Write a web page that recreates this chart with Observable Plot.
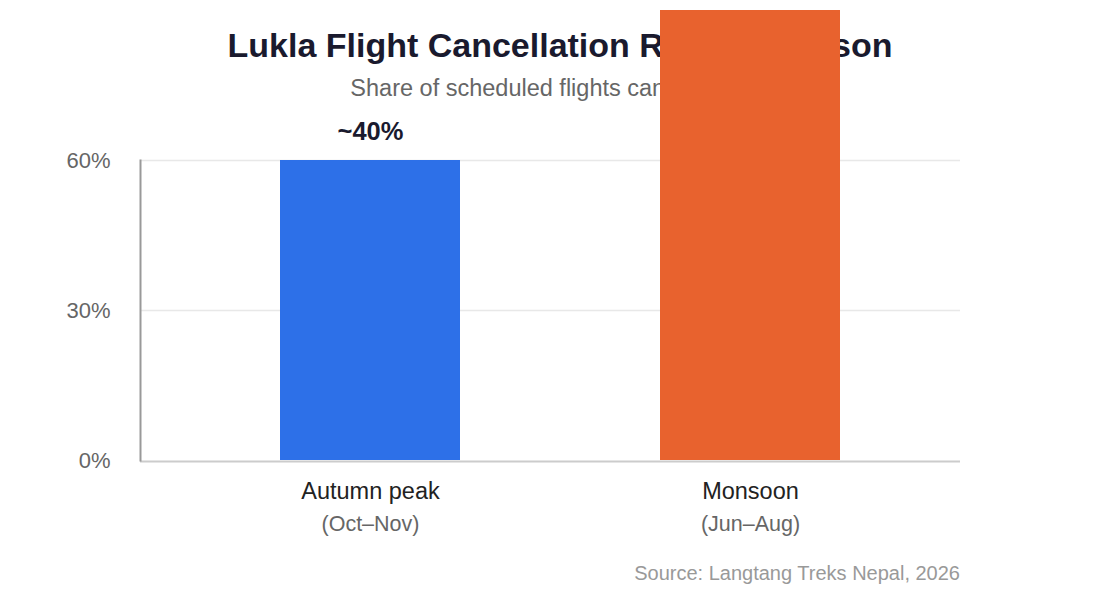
<!DOCTYPE html>
<html>
<head>
<meta charset="utf-8">
<script src="https://cdn.jsdelivr.net/npm/d3@7"></script>
<script src="https://cdn.jsdelivr.net/npm/@observablehq/plot@0.6"></script>
<style>
  html, body { margin: 0; padding: 0; background: #fff; }
  body { width: 1120px; height: 600px; overflow: hidden; font-family: "Liberation Sans", Arial, sans-serif; }
  #header { position: relative; height: 110px; width: 1120px; }
  #title { position: absolute; left: 0; width: 1120px; top: 25px; line-height: 40px; text-align: center;
           font-size: 34px; font-weight: bold; color: #1a1a2e; }
  #subtitle { position: absolute; left: 0; width: 1120px; top: 73px; line-height: 30px; text-align: center;
              font-size: 23.5px; color: #666; }
  #chart svg { position: relative; overflow: visible; display: block; }
  #caption { position: relative; width: 960px; text-align: right; font-size: 20px; color: #999; line-height: 24px; margin-top: 11px; }
</style>
</head>
<body>
<div id="header">
  <div id="title">Lukla Flight Cancellation Rate by Season</div>
  <div id="subtitle">Share of scheduled flights cancelled (%)</div>
</div>
<div id="chart"></div>
<div id="caption">Source: Langtang Treks Nepal, 2026</div>
<script>
// Data
const categories = ["Autumn peak", "Monsoon"];
const periods = ["(Oct–Nov)", "(Jun–Aug)"];
const cancelRates = [40, 60];
const barLabels = ["~40%", ""];
const barColors = ["#2d70e8", "#e8622e"];
const tickValues = [0, 20, 40];
const tickLabels = ["0%", "30%", "60%"];

const rows = categories.map((c, i) => ({
  category: c, period: periods[i], value: cancelRates[i], label: barLabels[i], color: barColors[i]
}));

const font = "Liberation Sans, Arial, sans-serif";

const plot = Plot.plot({
  width: 1120,
  height: 440,
  marginLeft: 140,
  marginRight: 160,
  marginTop: 50,
  marginBottom: 90,
  style: { fontFamily: font, overflow: "visible", background: "transparent" },
  x: { type: "band", domain: categories, range: [280, 840], paddingInner: 200 / 380, paddingOuter: 0, round: false, axis: null },
  y: { domain: [0, 40], axis: null },
  marks: [
    Plot.gridY(tickValues.filter(v => v > 0), { stroke: "#e8e8e8", strokeOpacity: 1, strokeWidth: 1.5 }),
    Plot.axisY(tickValues, {
      tickSize: 0, tickPadding: 30, fontSize: 22, fill: "#666", label: null,
      tickFormat: v => tickLabels[tickValues.indexOf(v)]
    }),
    Plot.barY(rows, { x: "category", y: "value", fill: "color" }),
    Plot.ruleY([0], { stroke: "#cccccc", strokeWidth: 2, dy: 1 }),
    Plot.frame({ anchor: "left", stroke: "#999", strokeWidth: 2 }),
    Plot.text(rows.filter(d => d.label), {
      x: "category", y: "value", text: "label", dy: -29,
      fontSize: 25.5, fontWeight: "bold", fill: "#1a1a2e"
    }),
    Plot.text(rows, {
      x: "category", text: "category", frameAnchor: "bottom", dy: 38,
      fontSize: 23.5, fill: "#222"
    }),
    Plot.text(rows, {
      x: "category", text: "period", frameAnchor: "bottom", dy: 70,
      fontSize: 21.5, fill: "#666"
    })
  ]
});
document.getElementById("chart").appendChild(plot);
</script>
</body>
</html>
